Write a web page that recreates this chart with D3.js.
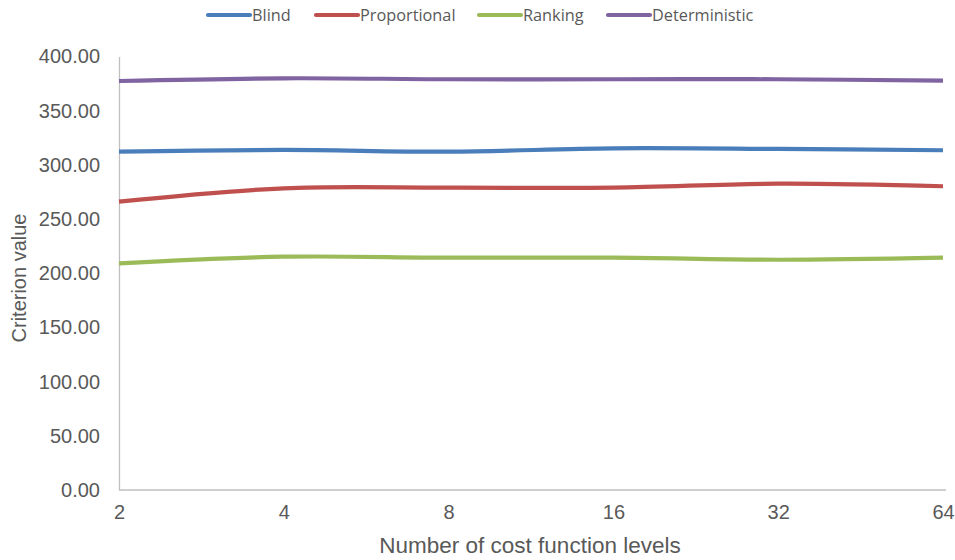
<!DOCTYPE html>
<html>
<head>
<meta charset="utf-8">
<script src="https://cdn.jsdelivr.net/npm/d3@7"></script>
<style>
  html, body { margin: 0; padding: 0; background: #fff; }
  svg { display: block; }
</style>
</head>
<body>
<svg id="chart" width="955" height="560"></svg>
<script>
// Categories along the x axis (number of cost function levels)
const levels = ["2", "4", "8", "16", "32", "64"];

// Criterion value per method
const blind         = [312.1, 313.7, 312.1, 315.2, 314.6, 313.4];
const proportional  = [266.0, 278.3, 278.9, 278.9, 282.6, 280.2];
const ranking       = [209.1, 215.2, 214.3, 214.3, 212.4, 214.3];
const deterministic = [377.3, 379.8, 378.9, 378.9, 378.9, 377.6];

const seriesNames  = ["Blind", "Proportional", "Ranking", "Deterministic"];
const seriesColors = ["#4a7ebb", "#c0504d", "#9bbb59", "#8064a2"];
const seriesValues = [blind, proportional, ranking, deterministic];

const yTicks = [0, 50, 100, 150, 200, 250, 300, 350, 400];

const svg = d3.select("#chart");
const margin = { left: 119, right: 943, top: 56.4, bottom: 490 };

const x = d3.scalePoint().domain(levels).range([margin.left, margin.right]).padding(0);
const y = d3.scaleLinear().domain([0, 400]).range([margin.bottom, margin.top]);

const textColor = "#595959";
const axisColor = "#bfbfbf";
const axisFont = "'Liberation Sans', Arial, Helvetica, sans-serif";

// Y axis
const yAxis = svg.append("g")
  .attr("transform", `translate(${margin.left},0)`)
  .call(d3.axisLeft(y).tickValues(yTicks).tickFormat(d3.format(".2f")).tickSize(0).tickPadding(19));
yAxis.select(".domain").attr("stroke", axisColor).attr("stroke-width", 1.3);
yAxis.selectAll("text")
  .attr("fill", textColor)
  .style("font-family", axisFont)
  .style("font-size", "20px");

// X axis
const xAxis = svg.append("g")
  .attr("transform", `translate(0,${margin.bottom})`)
  .call(d3.axisBottom(x).tickSize(0).tickPadding(15));
xAxis.select(".domain").attr("stroke", axisColor).attr("stroke-width", 1.3)
  .attr("d", `M${margin.left},0H946`);
xAxis.selectAll("text")
  .attr("fill", textColor)
  .style("font-family", axisFont)
  .style("font-size", "20px");

// Axis titles
svg.append("text")
  .attr("transform", "translate(26,278) rotate(-90)")
  .attr("text-anchor", "middle")
  .attr("fill", textColor)
  .style("font-family", axisFont)
  .style("font-size", "20px")
  .text("Criterion value");

svg.append("text")
  .attr("x", 530)
  .attr("y", 553)
  .attr("text-anchor", "middle")
  .attr("fill", textColor)
  .style("font-family", axisFont)
  .style("font-size", "22.5px")
  .text("Number of cost function levels");

// Series lines (smoothed)
const line = d3.line()
  .x((d, i) => x(levels[i]))
  .y(d => y(d))
  .curve(d3.curveCatmullRom.alpha(0.5));

svg.append("g").selectAll("path")
  .data(seriesValues)
  .join("path")
  .attr("d", d => line(d))
  .attr("fill", "none")
  .attr("stroke", (d, i) => seriesColors[i])
  .attr("stroke-width", 4.2)
  .attr("stroke-linecap", "butt");

// Legend
const legendX = [208, 316, 479, 608];
const legend = svg.append("g");
seriesNames.forEach((name, i) => {
  const g = legend.append("g").attr("transform", `translate(${legendX[i]},15)`);
  g.append("line")
    .attr("x1", 0).attr("x2", 42).attr("y1", 0).attr("y2", 0)
    .attr("stroke", seriesColors[i]).attr("stroke-width", 4.2).attr("stroke-linecap", "round");
  g.append("text")
    .attr("x", 44).attr("y", 6)
    .attr("fill", textColor)
    .style("font-family", "'Open Sans', 'Noto Sans', sans-serif")
    .style("font-size", "16.3px")
    .text(name);
});
</script>
</body>
</html>
